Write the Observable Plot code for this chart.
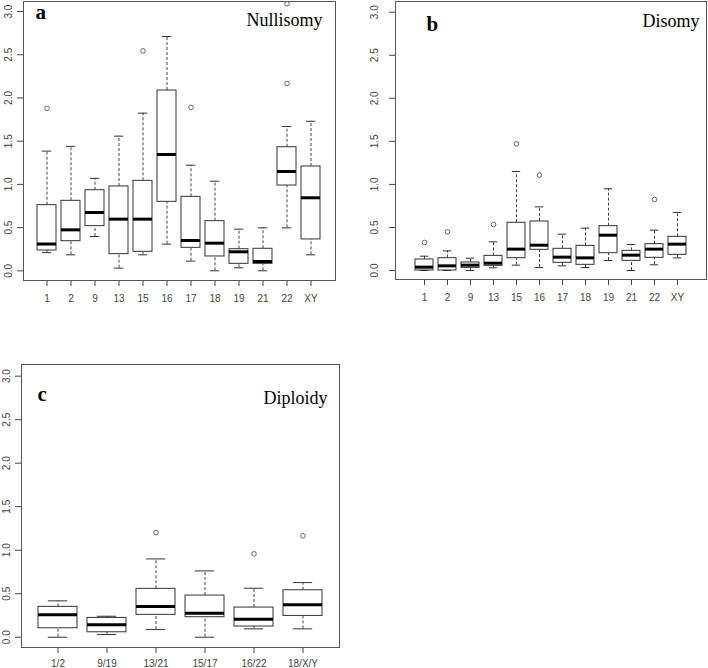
<!DOCTYPE html>
<html>
<head>
<meta charset="utf-8">
<script src="https://cdn.jsdelivr.net/npm/d3@7"></script>
<script src="https://cdn.jsdelivr.net/npm/@observablehq/plot@0.6"></script>
<style>
  body { margin: 0; background: #fff; }
  #wrap { position: relative; width: 708px; height: 668px; overflow: hidden; }
  #wrap > svg { position: absolute; }
</style>
</head>
<body>
<div id="wrap"></div>
<script>
// ---- Panel a: Nullisomy ----
const nulliCats = ["1","2","9","13","15","16","17","18","19","21","22","XY"];
const nulliLow  = [0.21, 0.185, 0.397, 0.031, 0.185, 0.309, 0.112, 0.0, 0.035, 0.0, 0.497, 0.185];
const nulliQ1   = [0.235, 0.343, 0.517, 0.193, 0.22, 0.798, 0.266, 0.166, 0.081, 0.081, 0.987, 0.363];
const nulliMed  = [0.31, 0.474, 0.675, 0.598, 0.598, 1.346, 0.351, 0.32, 0.22, 0.108, 1.149, 0.845];
const nulliQ3   = [0.76, 0.81, 0.933, 0.976, 1.041, 2.086, 0.856, 0.575, 0.25, 0.255, 1.43, 1.207];
const nulliHigh = [1.385, 1.44, 1.07, 1.558, 1.824, 2.711, 1.222, 1.037, 0.482, 0.497, 1.67, 1.73];
const nulliOutCat = ["1","15","17","22","22"];
const nulliOutVal = [1.88, 2.545, 1.89, 2.167, 3.09];

// ---- Panel b: Disomy ----
const disoCats = ["1","2","9","13","15","16","17","18","19","21","22","XY"];
const disoLow  = [0.0, 0.0, 0.0, 0.031, 0.062, 0.035, 0.054, 0.035, 0.116, 0.0, 0.066, 0.147];
const disoQ1   = [0.0, 0.0, 0.031, 0.054, 0.143, 0.24, 0.089, 0.066, 0.201, 0.112, 0.147, 0.182];
const disoMed  = [0.039, 0.054, 0.062, 0.085, 0.248, 0.294, 0.155, 0.147, 0.41, 0.178, 0.248, 0.306];
const disoQ3   = [0.128, 0.143, 0.093, 0.17, 0.554, 0.569, 0.252, 0.286, 0.515, 0.228, 0.306, 0.391];
const disoHigh = [0.166, 0.228, 0.143, 0.333, 1.15, 0.739, 0.422, 0.492, 0.949, 0.302, 0.468, 0.674];
const disoOutCat = ["1","2","13","15","16","22"];
const disoOutVal = [0.325, 0.449, 0.534, 1.471, 1.107, 0.825];

// ---- Panel c: Diploidy ----
const diplCats = ["1/2","9/19","13/21","15/17","16/22","18/X/Y"];
const diplLow  = [0.0, 0.031, 0.088, 0.0, 0.096, 0.096];
const diplQ1   = [0.103, 0.057, 0.257, 0.23, 0.123, 0.245];
const diplMed  = [0.257, 0.142, 0.352, 0.276, 0.207, 0.372];
const diplQ3   = [0.349, 0.222, 0.556, 0.479, 0.341, 0.54];
const diplHigh = [0.418, 0.241, 0.9, 0.762, 0.563, 0.628];
const diplOutCat = ["13/21","16/22","18/X/Y"];
const diplOutVal = [1.203, 0.958, 1.165];

const yTicks = [0, 0.5, 1, 1.5, 2, 2.5, 3];

function table(cats, lo, q1, med, q3, hi) {
  return cats.map((c, i) => ({cat: c, lo: lo[i], q1: q1[i], med: med[i], q3: q3[i], hi: hi[i]}));
}
function outs(cats, vals) {
  return cats.map((c, i) => ({cat: c, v: vals[i]}));
}

function panel(cfg) {
  const data = table(...cfg.cols);
  const out = outs(...cfg.outs);
  const plotW = cfg.width - cfg.ml - cfg.mr;
  const n = cfg.cols[0].length;
  const step = plotW / (n - 0.2 + 2 * cfg.po);
  const capInset = step * 0.8 / 4;
  const svg = Plot.plot({
    width: cfg.width,
    height: cfg.height,
    marginLeft: cfg.ml, marginRight: cfg.mr, marginTop: cfg.mt, marginBottom: cfg.mb,
    style: {fontFamily: "'Liberation Sans', Arial, sans-serif", fontSize: "10px", color: "#444", background: "transparent"},
    x: {type: "band", domain: cfg.cols[0], paddingInner: 0.2, paddingOuter: cfg.po, align: 0.5, label: null,
        tickSize: 6, tickPadding: cfg.xpad},
    y: {domain: cfg.ydom, label: null, ticks: yTicks, tickFormat: d3.format(".1f"),
        tickRotate: -90, tickSize: 6, tickPadding: cfg.ypad},
    marks: [
      Plot.ruleX(data, {x: "cat", y1: "q3", y2: "hi", stroke: "#444", strokeDasharray: "3,2"}),
      Plot.ruleX(data, {x: "cat", y1: "lo", y2: "q1", stroke: "#444", strokeDasharray: "3,2"}),
      Plot.tickY(data, {x: "cat", y: "hi", stroke: "#333", insetLeft: capInset, insetRight: capInset}),
      Plot.tickY(data, {x: "cat", y: "lo", stroke: "#333", insetLeft: capInset, insetRight: capInset}),
      Plot.barY(data, {x: "cat", y1: "q1", y2: "q3", fill: "white", stroke: "#333", strokeWidth: 1}),
      Plot.tickY(data, {x: "cat", y: "med", stroke: "#000", strokeWidth: 3}),
      Plot.dot(out, {x: "cat", y: "v", r: 2.3, stroke: "#666", fill: "none", strokeWidth: 1}),
      Plot.frame({stroke: "#555", strokeWidth: 1}),
      Plot.text([cfg.letter], {frameAnchor: "top-left", dx: cfg.letterDx, dy: cfg.letterDy, lineAnchor: "bottom",
        textAnchor: "start", fontFamily: "'Liberation Serif', 'Times New Roman', serif", fontWeight: "bold",
        fontSize: 21, fill: "#000"}),
      Plot.text([cfg.title], {frameAnchor: "top-right", dx: cfg.titleDx, dy: cfg.titleDy, lineAnchor: "bottom",
        textAnchor: "end", fontFamily: "'Liberation Serif', 'Times New Roman', serif",
        fontSize: 18, fill: "#000"})
    ]
  });
  svg.style.left = cfg.left + "px";
  svg.style.top = cfg.top + "px";
  document.getElementById("wrap").appendChild(svg);
}

panel({
  left: 0, top: 0, width: 345, height: 310, ml: 23, mr: 10, mt: 1, mb: 30,
  po: 0.58, ydom: [-0.112, 3.116], xpad: 8, ypad: 6,
  cols: [nulliCats, nulliLow, nulliQ1, nulliMed, nulliQ3, nulliHigh],
  outs: [nulliOutCat, nulliOutVal],
  letter: "a", letterDx: 12, letterDy: 17, title: "Nullisomy", titleDx: -13, titleDy: 24
});
panel({
  left: 354, top: 0, width: 354, height: 310, ml: 41, mr: 2, mt: 1, mb: 31,
  po: 0.58, ydom: [-0.1045, 3.124], xpad: 8, ypad: 12,
  cols: [disoCats, disoLow, disoQ1, disoMed, disoQ3, disoHigh],
  outs: [disoOutCat, disoOutVal],
  letter: "b", letterDx: 31, letterDy: 29, title: "Disomy", titleDx: -7, titleDy: 25
});
panel({
  left: 0, top: 330, width: 354, height: 338, ml: 21, mr: 15, mt: 34, mb: 21,
  po: 0.34, ydom: [-0.118, 3.134], xpad: 6, ypad: 6,
  cols: [diplCats, diplLow, diplQ1, diplMed, diplQ3, diplHigh],
  outs: [diplOutCat, diplOutVal],
  letter: "c", letterDx: 16, letterDy: 36, title: "Diploidy", titleDx: -12, titleDy: 39
});
</script>
</body>
</html>
